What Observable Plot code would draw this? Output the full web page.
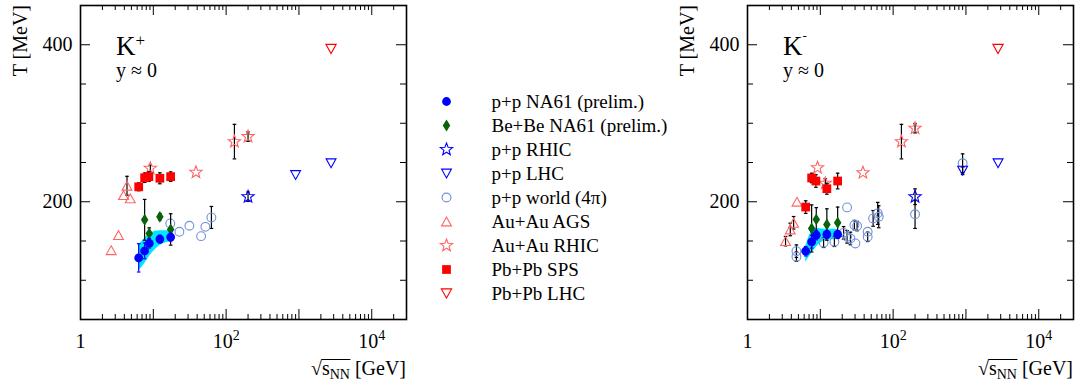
<!DOCTYPE html>
<html><head><meta charset="utf-8">
<script src="https://cdn.jsdelivr.net/npm/d3@7"></script>
<script src="https://cdn.jsdelivr.net/npm/@observablehq/plot@0.6"></script>
<style>
body{margin:0;background:#fff;}
#wrap{position:relative;width:1086px;height:386px;overflow:hidden;background:#fff;}
#wrap > svg{position:absolute;top:0;}
</style></head><body><div id="wrap"></div>
<script>
// ---------------- data ----------------
const seriesNames = ["p+p NA61 (prelim.)","Be+Be NA61 (prelim.)","p+p RHIC","p+p LHC","p+p world (4π)","Au+Au AGS","Au+Au RHIC","Pb+Pb SPS","Pb+Pb LHC"];

// NA61 p+p
const na61E      = [6.3, 7.6, 8.8, 12.3, 17.3];
const na61Kp     = [128.5, 137.4, 147, 152.4, 155];
const na61KpErr  = [18, 10, 6, 5, 5];
const na61Km     = [137, 149, 157.5, 158.4, 158.4];
const na61KmErr  = [6, 8, 6, 5, 5];
// NA61 p+p systematic band
const bandKpLo = [112, 121, 130, 144, 149];
const bandKpHi = [145, 153, 159, 163, 163];
const bandKmLo = [123, 134, 142, 151, 152];
const bandKmHi = [143, 162, 166, 165, 165];
// NA61 Be+Be
const beE      = [7.6, 8.8, 12.3, 17.3];
const beKp     = [177, 159.7, 180.8, 164.7];
const beKpErr  = [26, 7, 4, 20];
const beKm     = [166, 177.5, 171, 173.2];
const beKmErr  = [30, 15, 20, 20];
// p+p RHIC
const ppRhicE = [200];
const ppRhicKp = [206.4];   const ppRhicKpErr = [6];
const ppRhicKm = [206.4];   const ppRhicKmErr = [10];
// p+p LHC
const ppLhcE = [900, 2760];
const ppLhcKp = [234, 249]; const ppLhcKpErr = [0, 0];
const ppLhcKm = [239.6, 249]; const ppLhcKmErr = [5, 0];
// p+p world (4pi)
const worldKpE = [17.1, 22.8, 31.3, 45.3, 51.9, 62.8];
const worldKp  = [172.4, 161.7, 169.4, 156.2, 168, 180];
const worldKpErr = [0, 0, 0, 0, 0, 14];
const worldKmE = [4.7, 4.7, 11.1, 15.6, 20.9, 23.3, 23.3, 25.9, 29.4, 32, 30.3, 44.7, 44.7, 53.1, 61.4, 63.4, 200, 900];
const worldKm  = [137, 130, 147.7, 149, 160.4, 192.8, 155.3, 153.2, 170.3, 169, 146.9, 161.7, 155.3, 178.8, 185.2, 180.9, 184, 249];
const worldKmErr = [8, 6, 6, 6, 8, 0, 8, 8, 6, 6, 0, 0, 6, 10, 14, 14, 18, 12];
// Au+Au AGS
const agsKpE = [2.64, 3.33, 3.9, 4.35, 4.83];
const agsKp  = [138.3, 157.5, 208.5, 220.4, 204.3];
const agsKpErr = [0, 0, 0, 12, 0];
const agsKmE = [3.33, 3.87, 4.3, 4.78];
const agsKm  = [149.8, 164.7, 173.2, 200];
const agsKmErr = [6, 8, 8, 0];
// Au+Au RHIC
const auRhicKpE = [9.1, 38.5, 130, 200];
const auRhicKp  = [242.6, 237.5, 276.6, 283];
const auRhicKpErr = [4, 0, 22, 6];
const auRhicKmE = [9.15, 11.7, 38.5, 130, 200];
const auRhicKm  = [243.4, 223.5, 237, 276.6, 293.7];
const auRhicKmErr = [0, 6, 0, 22, 6];
// Pb+Pb SPS
const spsE = [6.3, 7.6, 8.7, 12.3, 17.3];
const spsKp = [219, 230.6, 232, 229.9, 232];
const spsKpErr = [5, 6, 6, 7, 6];
const spsKm = [193.2, 230.3, 226.4, 216.6, 226.4];
const spsKmErr = [8, 6, 8, 7, 10];
// Pb+Pb LHC
const pbLhcE = [2760];
const pbLhcKp = [394.6]; const pbLhcKm = [394.6];
const pbLhcErr = [0];

// axis ticks
const xLabelTicks = [1, 100, 10000];
const xMajor = [10, 100, 1000, 10000];
const xMinor = [1, 10, 100, 1000, 10000].flatMap(p => [2,3,4,5,6,7,8,9].map(k => k * p)).filter(v => v < 30000);
const yMajor = [200, 400];
const yMinor = [100, 150, 250, 300, 350];

// ---------------- styles ----------------
const FONT = "'Liberation Serif','Times New Roman',serif";
const BLUE = "#0000ff", GREEN = "#0a620a", LBLUE = "#7090d8", LRED = "#ff6464", RED = "#ff0000", CYAN = "#00e8ff";
const R = s => Math.sqrt(s / Math.PI);
const symCircle = {draw(c, s){const r = R(s); c.moveTo(r, 0); c.arc(0, 0, r, 0, 2 * Math.PI); c.closePath();}};
const symSquare = {draw(c, s){const r = R(s) * 0.95; c.moveTo(-r, -r); c.lineTo(r, -r); c.lineTo(r, r); c.lineTo(-r, r); c.closePath();}};
const symTriUp = {draw(c, s){const r = R(s), w = r * 1.12, h = r * 2.0; c.moveTo(0, -h / 2); c.lineTo(w, h / 2); c.lineTo(-w, h / 2); c.closePath();}};
const symTriDown = {draw(c, s){const r = R(s), w = r * 1.12, h = r * 2.0; c.moveTo(0, h / 2); c.lineTo(w, -h / 2); c.lineTo(-w, -h / 2); c.closePath();}};
const symStar = {draw(c, s){const r = R(s) * 1.4, ri = r * 0.42; for (let i = 0; i < 10; i++){const a = -Math.PI / 2 + i * Math.PI / 5, rr = i % 2 ? ri : r, x = rr * Math.cos(a), y = rr * Math.sin(a); if (i) c.lineTo(x, y); else c.moveTo(x, y);} c.closePath();}};
const symDiamond = {draw(c, s){const r = R(s); c.moveTo(0, -r * 1.35); c.lineTo(r * 0.85, 0); c.lineTo(0, r * 1.35); c.lineTo(-r * 0.85, 0); c.closePath();}};
const symCap = {draw(c, s){const r = R(s); c.moveTo(-r, 0); c.lineTo(r, 0);}};

const STYLE = {
  "p+p NA61 (prelim.)":   {symbol: symCircle, r: 4.4, fill: BLUE, stroke: "none", err: BLUE},
  "Be+Be NA61 (prelim.)": {symbol: symDiamond, r: 4.4, fill: GREEN, stroke: "none"},
  "p+p RHIC":             {symbol: symStar, r: 4.6, fill: "none", stroke: BLUE, sw: 1.1},
  "p+p LHC":              {symbol: symTriDown, r: 4.4, fill: "none", stroke: BLUE, sw: 1.1},
  "p+p world (4π)":       {symbol: symCircle, r: 4.4, fill: "none", stroke: LBLUE, sw: 1.1},
  "Au+Au AGS":            {symbol: symTriUp, r: 4.4, fill: "none", stroke: LRED, sw: 1.1},
  "Au+Au RHIC":           {symbol: symStar, r: 4.6, fill: "none", stroke: LRED, sw: 1.1},
  "Pb+Pb SPS":            {symbol: symSquare, r: 4.6, fill: RED, stroke: "none"},
  "Pb+Pb LHC":            {symbol: symTriDown, r: 4.6, fill: "none", stroke: RED, sw: 1.1}
};

const H = 386, MT = 5, MB = 67, ML = 80;

function makePanel(cfg) {
  const W = cfg.width, MR = cfg.marginRight;
  const fh = H - MT - MB, fw = W - ML - MR;
  const band = cfg.bandE.map((e, i) => ({e, lo: cfg.bandLo[i], hi: cfg.bandHi[i]}));
  const marks = [Plot.areaY(band, {x: "e", y1: "lo", y2: "hi", fill: CYAN, curve: "monotone-x"})];
  for (const s of cfg.series) {
    const st = STYLE[s.name];
    const data = s.E.map((e, i) => ({e, t: s.T[i], d: s.err[i] || 0}));
    const we = data.filter(d => d.d > 0);
    const ec = st.err || "black";
    marks.push(Plot.ruleX(we, {x: "e", y1: d => d.t - d.d, y2: d => d.t + d.d, stroke: ec, strokeWidth: 1.2}));
    marks.push(Plot.dot(we, {x: "e", y: d => d.t - d.d, symbol: symCap, r: 1.8, stroke: ec, strokeWidth: 1.2}));
    marks.push(Plot.dot(we, {x: "e", y: d => d.t + d.d, symbol: symCap, r: 1.8, stroke: ec, strokeWidth: 1.2}));
    marks.push(Plot.dot(data, {x: "e", y: "t", symbol: st.symbol, r: st.r, fill: st.fill, stroke: st.stroke, strokeWidth: st.sw || 1}));
  }
  marks.push(
    Plot.tickX(xMajor, {x: d => d, insetTop: fh - 10, stroke: "black"}),
    Plot.tickX(xMajor, {x: d => d, insetBottom: fh - 10, stroke: "black"}),
    Plot.tickX(xMinor, {x: d => d, insetTop: fh - 5, stroke: "black"}),
    Plot.tickX(xMinor, {x: d => d, insetBottom: fh - 5, stroke: "black"}),
    Plot.tickY(yMajor, {y: d => d, insetRight: fw - 10, stroke: "black"}),
    Plot.tickY(yMajor, {y: d => d, insetLeft: fw - 10, stroke: "black"}),
    Plot.tickY(yMinor, {y: d => d, insetRight: fw - 6, stroke: "black"}),
    Plot.tickY(yMinor, {y: d => d, insetLeft: fw - 6, stroke: "black"}),
    Plot.frame({stroke: "black", strokeWidth: 1.6}),
    Plot.axisY(yMajor, {tickSize: 0, tickPadding: 8, fontSize: 20, fontFamily: FONT, fontVariant: "normal", label: null}),
    Plot.axisX(xLabelTicks, {tickSize: 0, tickPadding: 14, fontSize: 20, fontFamily: FONT, fontVariant: "normal", label: null,
      tickFormat: d => d === 1 ? "1" : d === 100 ? "10²" : "10⁴"})
  );
  const svg = Plot.plot({
    width: W, height: H, marginLeft: ML, marginRight: MR, marginTop: MT, marginBottom: MB,
    x: {type: "log", domain: [1, 30000]},
    y: {domain: [50, 450]},
    style: {fontFamily: FONT, fontSize: "20px", background: "transparent", color: "black"},
    marks
  });
  svg.style.left = cfg.left + "px";
  svg.style.maxWidth = "none";
  document.getElementById("wrap").appendChild(svg);
  const g = d3.select(svg);
  g.selectAll("[aria-label$='tick label']").attr("font-family", FONT).style("font-family", FONT);
  // superscripts in tick labels
  g.selectAll("[aria-label='x-axis tick label'] text").each(function() {
    const t = this.textContent;
    if (t === "10²" || t === "10⁴") {
      const sup = t === "10²" ? "2" : "4";
      this.textContent = "10";
      d3.select(this).append("tspan").attr("font-size", 14).attr("dy", -8).text(sup);
    }
  });
  // y title
  g.append("text").attr("transform", "translate(27,5) rotate(-90)").attr("text-anchor", "end")
    .attr("font-family", FONT).attr("font-size", 20).attr("fill", "black").text("T [MeV]");
  // x title
  const xr = W - MR, base = 375;
  const t = g.append("text").attr("x", xr).attr("y", base).attr("text-anchor", "end")
    .attr("font-family", FONT).attr("font-size", 20).attr("fill", "black").style("white-space", "pre");
  t.append("tspan").text("√");
  t.append("tspan").text("s");
  t.append("tspan").attr("font-size", 14).attr("dy", 4).text("NN");
  t.append("tspan").attr("dy", -4).text(" [GeV]");
  try {
    const n = t.node();
    const a = n.getEndPositionOfChar(0), b = n.getEndPositionOfChar(3);
    g.append("line").attr("x1", a.x - 0.5).attr("x2", b.x + 0.5).attr("y1", base - 15.5).attr("y2", base - 15.5)
      .attr("stroke", "black").attr("stroke-width", 1);
  } catch (e) {}
  // particle label
  const k = g.append("text").attr("x", ML + 36).attr("y", 55).attr("text-anchor", "start")
    .attr("font-family", FONT).attr("font-size", 27).attr("fill", "black");
  k.append("tspan").text("K");
  if (cfg.sign === "+") k.append("tspan").attr("font-size", 17).attr("dy", -9).text("+");
  else k.append("tspan").attr("font-size", 13).attr("dy", -15).text("-");
  g.append("text").attr("x", ML + 36).attr("y", 77).attr("text-anchor", "start")
    .attr("font-family", FONT).attr("font-size", 20).attr("fill", "black").text("y ≈ 0");
}

makePanel({
  left: 0, width: 420, marginRight: 14, sign: "+",
  bandE: na61E, bandLo: bandKpLo, bandHi: bandKpHi,
  series: [
    {name: "p+p world (4π)", E: worldKpE, T: worldKp, err: worldKpErr},
    {name: "Au+Au AGS", E: agsKpE, T: agsKp, err: agsKpErr},
    {name: "Au+Au RHIC", E: auRhicKpE, T: auRhicKp, err: auRhicKpErr},
    {name: "Pb+Pb SPS", E: spsE, T: spsKp, err: spsKpErr},
    {name: "Pb+Pb LHC", E: pbLhcE, T: pbLhcKp, err: pbLhcErr},
    {name: "p+p LHC", E: ppLhcE, T: ppLhcKp, err: ppLhcKpErr},
    {name: "p+p RHIC", E: ppRhicE, T: ppRhicKp, err: ppRhicKpErr},
    {name: "Be+Be NA61 (prelim.)", E: beE, T: beKp, err: beKpErr},
    {name: "p+p NA61 (prelim.)", E: na61E, T: na61Kp, err: na61KpErr}
  ]
});
makePanel({
  left: 667, width: 419, marginRight: 13, sign: "-",
  bandE: na61E, bandLo: bandKmLo, bandHi: bandKmHi,
  series: [
    {name: "p+p world (4π)", E: worldKmE, T: worldKm, err: worldKmErr},
    {name: "Au+Au AGS", E: agsKmE, T: agsKm, err: agsKmErr},
    {name: "Au+Au RHIC", E: auRhicKmE, T: auRhicKm, err: auRhicKmErr},
    {name: "Pb+Pb SPS", E: spsE, T: spsKm, err: spsKmErr},
    {name: "Pb+Pb LHC", E: pbLhcE, T: pbLhcKm, err: pbLhcErr},
    {name: "p+p LHC", E: ppLhcE, T: ppLhcKm, err: ppLhcKmErr},
    {name: "p+p RHIC", E: ppRhicE, T: ppRhicKm, err: ppRhicKmErr},
    {name: "Be+Be NA61 (prelim.)", E: beE, T: beKm, err: beKmErr},
    {name: "p+p NA61 (prelim.)", E: na61E, T: na61Km, err: na61KmErr}
  ]
});

// legend
const legendMarks = seriesNames.map(n => {
  const st = STYLE[n];
  return Plot.dot([n], {x: () => 0, y: d => d, symbol: st.symbol, r: st.r, fill: st.fill, stroke: st.stroke, strokeWidth: st.sw || 1});
});
legendMarks.push(Plot.text(seriesNames, {x: () => 1, y: d => d, text: d => d, textAnchor: "start", fontSize: 19, fontFamily: FONT, fill: "black"}));
const legend = Plot.plot({
  width: 257, height: H, margin: 0,
  x: {domain: [0, 1], range: [36, 81], axis: null},
  y: {type: "point", domain: seriesNames, range: [88.3, 306], axis: null},
  style: {fontFamily: FONT, fontSize: "19px", background: "transparent", color: "black"},
  marks: legendMarks
});
legend.style.left = "410px";
legend.style.maxWidth = "none";
document.getElementById("wrap").appendChild(legend);
</script></body></html>
